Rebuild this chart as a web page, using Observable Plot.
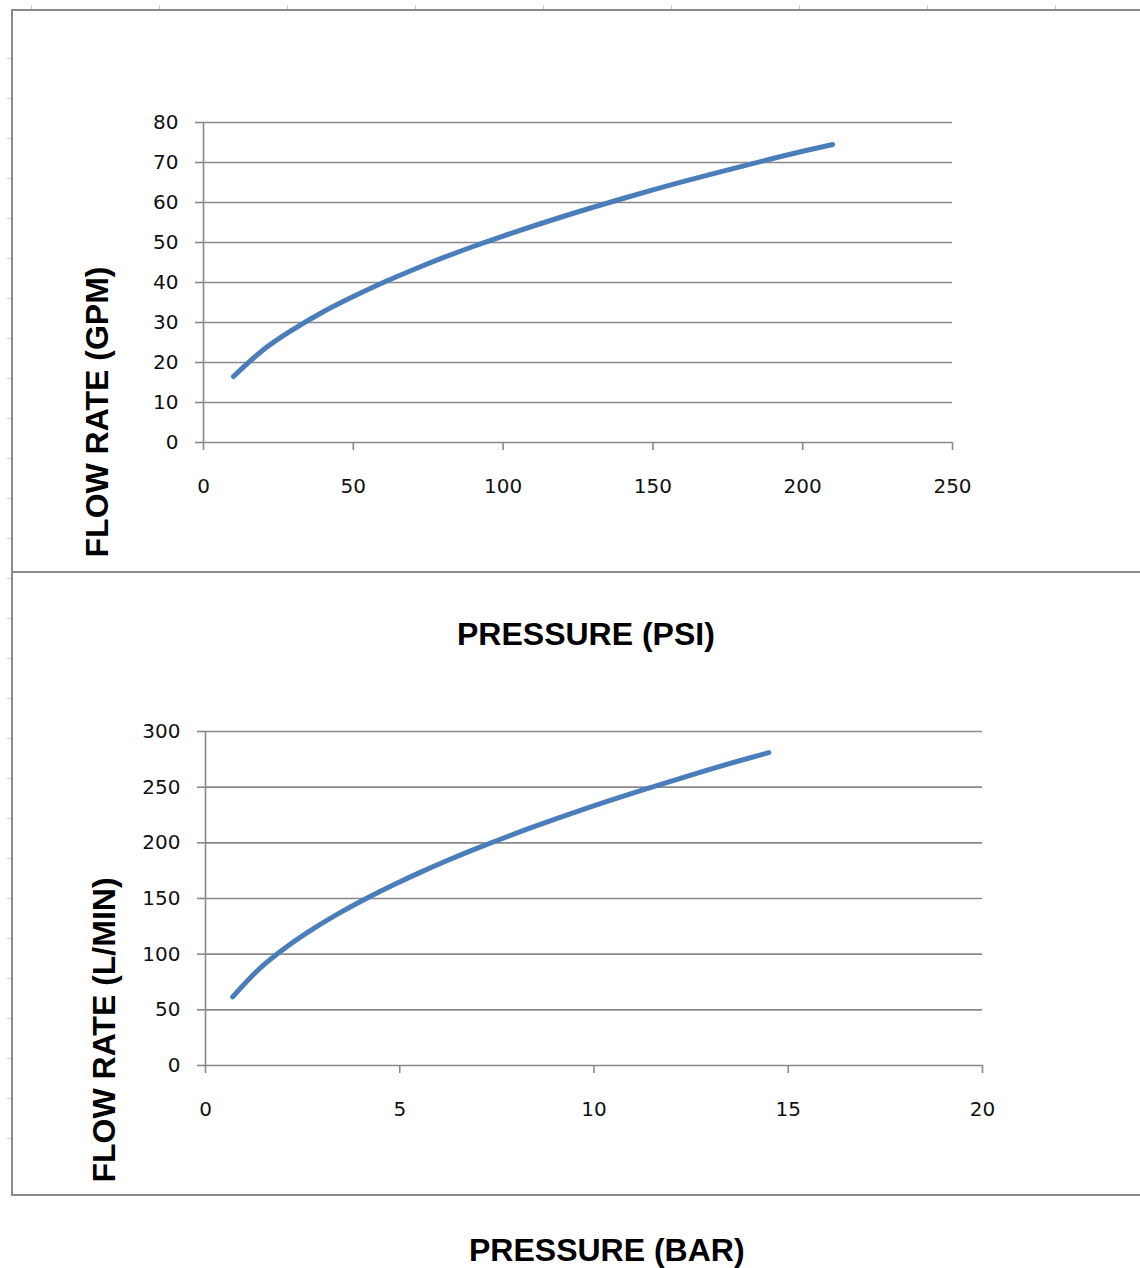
<!DOCTYPE html>
<html>
<head>
<meta charset="utf-8">
<script src="https://cdn.jsdelivr.net/npm/d3@7"></script>
<script src="https://cdn.jsdelivr.net/npm/@observablehq/plot@0.6"></script>
<style>
  html, body { margin: 0; padding: 0; background: #fff; }
  #page { position: relative; width: 1140px; height: 1268px; overflow: hidden; background: #fff; }
  .plot { position: absolute; left: 0; }
  .title { position: absolute; font-family: "Liberation Sans", Arial, sans-serif; font-weight: bold; font-size: 32px; color: #000; white-space: nowrap; line-height: 1; }
  .vtitle { transform-origin: center center; }
  .line { position: absolute; background: #8a8a8a; }
  .rtick { position: absolute; background: #c5ccd8; }
</style>
</head>
<body>
<div id="page"></div>
<script>
// ---- Data ----
const psi = [10, 20, 30, 40, 50, 60, 70, 80, 90, 100, 120, 140, 160, 180, 200, 210];
const gpm = [16.5, 23.2, 28.3, 32.7, 36.5, 40, 43.2, 46.2, 49, 51.6, 56.5, 61, 65.2, 69.1, 72.8, 74.5];
const psiTicks = [0, 50, 100, 150, 200, 250];
const gpmTicks = [0, 10, 20, 30, 40, 50, 60, 70, 80];

const bar = [0.7, 1.4, 2.1, 2.8, 3.5, 4.2, 4.9, 5.6, 6.3, 7.0, 8.4, 9.8, 11.2, 12.6, 14.0, 14.5];
const lpm = [61.7, 87.3, 106.9, 123.4, 138, 151.2, 163.3, 174.6, 185.2, 195.2, 213.8, 231, 246.9, 262, 276.2, 281];
const barTicks = [0, 5, 10, 15, 20];
const lpmTicks = [0, 50, 100, 150, 200, 250, 300];

const titles = {
  x1: "PRESSURE (PSI)", y1: "FLOW RATE (GPM)",
  x2: "PRESSURE (BAR)", y2: "FLOW RATE (L/MIN)"
};

const gridColor = "#898989";
const lineColor = "#4a7ebb";

function chart({xs, ys, xTicks, yTicks, xDomain, yDomain, height, margins}) {
  const data = xs.map((x, i) => ({x, y: ys[i]}));
  return Plot.plot({
    width: 1140,
    height,
    ...margins,
    style: {fontFamily: "'DejaVu Sans', Verdana, sans-serif", fontSize: "20px", color: "#111", background: "transparent", overflow: "visible"},
    x: {domain: xDomain, label: null},
    y: {domain: yDomain, label: null},
    marks: [
      Plot.gridY(yTicks, {stroke: gridColor, strokeOpacity: 1, strokeWidth: 1.6}),
      Plot.ruleX([xDomain[0]], {stroke: gridColor, strokeWidth: 1.6}),
      Plot.axisY({ticks: yTicks, tickSize: 8, tickPadding: 17, stroke: gridColor, strokeWidth: 1.6, fill: "#111", label: null}),
      Plot.axisX({ticks: xTicks, tickSize: 8, tickPadding: 28, stroke: gridColor, strokeWidth: 1.6, fill: "#111", label: null}),
      Plot.line(data, {x: "x", y: "y", curve: "monotone-x", stroke: lineColor, strokeWidth: 5, strokeLinecap: "round"})
    ]
  });
}

const page = document.getElementById("page");

const p1 = chart({
  xs: psi, ys: gpm, xTicks: psiTicks, yTicks: gpmTicks,
  xDomain: [0, 250], yDomain: [0, 80], height: 572,
  margins: {marginLeft: 203, marginRight: 188, marginTop: 122, marginBottom: 130}
});
p1.classList.add("plot"); p1.style.top = "0px";
page.appendChild(p1);

const p2 = chart({
  xs: bar, ys: lpm, xTicks: barTicks, yTicks: lpmTicks,
  xDomain: [0, 20], yDomain: [0, 300], height: 623,
  margins: {marginLeft: 205, marginRight: 158, marginTop: 159, marginBottom: 130}
});
p2.classList.add("plot"); p2.style.top = "572px";
page.appendChild(p2);

// frame lines
function addLine(l, t, w, h) {
  const d = document.createElement("div");
  d.className = "line";
  Object.assign(d.style, {left: l + "px", top: t + "px", width: w + "px", height: h + "px"});
  page.appendChild(d);
}
addLine(12, 9, 1128, 2);
addLine(11, 9, 2, 1187);
addLine(12, 571, 1128, 2);
addLine(12, 1194, 1128, 2);

// ruler marks
for (let y = 58; y <= 1140; y += 40) {
  const d = document.createElement("div");
  d.className = "rtick";
  Object.assign(d.style, {left: "7px", top: y + "px", width: "4px", height: "1px"});
  page.appendChild(d);
}
for (let x = 31; x <= 1140; x += 128) {
  const d = document.createElement("div");
  d.className = "rtick";
  Object.assign(d.style, {left: x + "px", top: "5px", width: "1px", height: "4px"});
  page.appendChild(d);
}

// titles
function addTitle(text, cx, cy, rotate) {
  const d = document.createElement("div");
  d.className = "title" + (rotate ? " vtitle" : "");
  d.textContent = text;
  page.appendChild(d);
  const w = d.offsetWidth, h = d.offsetHeight;
  d.style.left = (cx - w / 2) + "px";
  d.style.top = (cy - h / 2) + "px";
  if (rotate) d.style.transform = "rotate(-90deg)";
}
addTitle(titles.x1, 586, 634, false);
addTitle(titles.y1, 97, 412, true);
addTitle(titles.x2, 607, 1250, false);
addTitle(titles.y2, 103, 1030, true);
</script>
</body>
</html>
